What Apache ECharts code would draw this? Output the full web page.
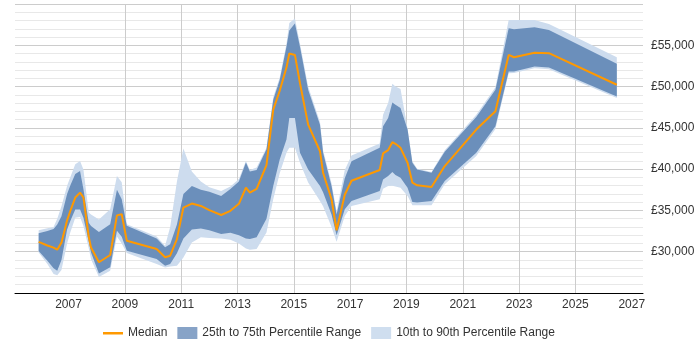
<!DOCTYPE html>
<html>
<head>
<meta charset="utf-8">
<script src="https://cdn.jsdelivr.net/npm/echarts@6/dist/echarts.min.js"></script>
<style>
  html, body { margin: 0; padding: 0; background: #fff; }
  #myChart { width: 700px; height: 350px; }
</style>
</head>
<body>
<div id="myChart"></div>
<script>
  // sample dates (fractional years) and percentile values in £
  var years = [2005.94, 2006.25, 2006.47, 2006.60, 2006.75, 2006.95, 2007.06, 2007.24, 2007.41, 2007.53,
    2007.72, 2007.80, 2008.08, 2008.48, 2008.72, 2008.89, 2009.07, 2010.13, 2010.43, 2010.61,
    2010.85, 2011.08, 2011.38, 2011.70, 2012.00, 2012.42, 2012.75, 2013.05, 2013.30, 2013.44,
    2013.68, 2014.03, 2014.27, 2014.50, 2014.74, 2014.84, 2015.04, 2015.22, 2015.51, 2015.93,
    2016.04, 2016.34, 2016.52, 2016.81, 2017.05, 2018.05, 2018.17, 2018.35, 2018.50, 2018.61,
    2018.79, 2019.04, 2019.21, 2019.38, 2019.89, 2020.36, 2021.48, 2022.16, 2022.63, 2022.82,
    2023.55, 2024.06, 2026.47];
  var p10 = [29900, 28500, 27300, 27150, 27800, 31000, 32300, 34100, 34200, 33100,
    30400, 29100, 26950, 27700, 31850, 31000, 29850, 28520, 28100, 28200,
    28300, 29300, 31130, 31740, 31650, 31600, 31450, 31000, 30400, 30240,
    30330, 32340, 36350, 39500, 42000, 42580, 42580, 40780, 38370, 36150,
    35500, 33000, 31200, 34340, 35550, 36350, 37640, 37960, 38000, 37900,
    37760, 36750, 35630, 35630, 35630, 38160, 41600, 44870, 51620, 51650,
    52230, 52110, 48610];
  var p25 = [30100, 28900, 28000, 27700, 29000, 32700, 33700, 35100, 35100, 34100,
    31200, 29900, 27350, 28120, 32530, 31800, 30120, 29120, 28310, 28500,
    29800, 31600, 32700, 32820, 32600, 32150, 32300, 32000, 31600, 31530,
    31740, 34000, 37960, 41170, 43600, 46200, 46200, 41980, 39970, 37960,
    37200, 34500, 32000, 35150, 36150, 37350, 38760, 39160, 39640, 39300,
    38970, 37760, 36030, 35950, 36150, 38560, 42000, 45190, 51820, 51820,
    52420, 52300, 48800];
  var median = [31200, 30750, 30500, 30250, 31100, 33800, 34900, 36560, 37160, 36560,
    31800, 30500, 28720, 29600, 34400, 34540, 31330, 30330, 29330, 29520,
    31530, 35350, 35830, 35540, 35030, 34450, 34950, 35800, 37760, 37160,
    37600, 40500, 47200, 49500, 52300, 54000, 53830, 50400, 45390, 42170,
    39570, 36350, 32600, 36900, 38600, 39890, 41900, 42300, 43260, 43070,
    42580, 40780, 38370, 38040, 37840, 40370, 44790, 47000, 53830, 53550,
    54100, 54040, 50220];
  var p75 = [32250, 32500, 32750, 33300, 34300, 37000, 38000, 39400, 39760, 37560,
    33500, 33100, 32400, 33340, 37500, 36350, 33130, 31610, 30530, 30900,
    33300, 37000, 37960, 37500, 37250, 36750, 37600, 38500, 40800, 39700,
    39900, 42400, 48400, 50800, 54830, 56800, 57650, 54830, 49610, 45390,
    42000, 37960, 34500, 38900, 40970, 42580, 45190, 46200, 48080, 47800,
    47410, 44790, 40780, 39970, 39570, 42100, 46300, 49610, 57050, 56930,
    57170, 56840, 52750];
  var p90 = [32600, 32850, 33000, 34000, 35500, 38000, 39000, 40600, 41000, 39970,
    34750, 34500, 33900, 35150, 39160, 38400, 33340, 31850, 30720, 33000,
    38500, 42500, 39700, 38500, 37800, 37350, 37900, 38800, 41000, 39900,
    40200, 42600, 48700, 51100, 55200, 57700, 58250, 55200, 50000, 45700,
    42300, 38300, 34900, 39900, 41660, 43100, 46600, 48000, 50340, 50000,
    49700, 44900, 40970, 40050, 39640, 42300, 46600, 49930, 58050, 58050,
    58050, 57570, 53550];
  var yearTicks = [2007, 2009, 2011, 2013, 2015, 2017, 2019, 2021, 2023, 2025, 2027];

  var lightBand = '#cddcee';
  var darkBand = '#6b8fbb';
  var medianColor = '#ff9900';
  var font = '"Liberation Sans", Arial, sans-serif';
  var lineIcon = 'path://M0,0h0.01v0.01h-0.01z M0,5h20v2.4h-20z M19.99,11.99h0.01v0.01h-0.01z';

  // band between two percentile lists, drawn as one polygon in axis coordinates
  function bandSeries(name, lo, hi, color) {
    return {
      name: name,
      type: 'custom',
      itemStyle: { color: color },
      encode: { x: 0, y: [1, 2] },
      data: years.map(function (y, i) { return [y, lo[i], hi[i]]; }),
      renderItem: function (params, api) {
        if (params.dataIndex !== 0) return;
        var pts = [];
        for (var i = 0; i < years.length; i++) pts.push(api.coord([years[i], hi[i]]));
        for (var j = years.length - 1; j >= 0; j--) pts.push(api.coord([years[j], lo[j]]));
        return {
          type: 'polygon',
          shape: { points: pts },
          style: { fill: color, stroke: null }
        };
      }
    };
  }

  var myChart = echarts.init(document.getElementById('myChart'));
  var option = {
    animation: false,
    textStyle: { fontFamily: font },
    grid: { left: 15, right: 57, top: 4, bottom: 57 },
    legend: {
      top: 322,
      left: 98,
      itemWidth: 20,
      itemHeight: 12,
      itemGap: 10,
      textStyle: { fontFamily: font, fontSize: 12, color: '#333' },
      data: [
        { name: 'Median', icon: lineIcon, itemStyle: { color: medianColor } },
        { name: '25th to 75th Percentile Range', icon: 'rect', itemStyle: { color: '#87a3c7' } },
        { name: '10th to 90th Percentile Range', icon: 'rect', itemStyle: { color: '#cfdeef' } }
      ]
    },
    xAxis: {
      type: 'value',
      min: 2005.1,
      max: 2027.4,
      axisLine: { show: true, lineStyle: { color: '#000', width: 1 } },
      axisTick: { show: false, customValues: yearTicks },
      axisLabel: {
        customValues: yearTicks,
        color: '#333',
        fontSize: 12,
        margin: 6,
        fontFamily: font,
        formatter: function (v) { return String(v); }
      },
      splitLine: { show: true, showMinLine: false, showMaxLine: false, lineStyle: { color: '#cccccc', width: 1 } }
    },
    yAxis: {
      type: 'value',
      position: 'right',
      min: 25000,
      max: 60000,
      interval: 1000,
      axisLine: { show: false },
      axisTick: { show: false },
      axisLabel: {
        color: '#333',
        fontSize: 12,
        margin: 8,
        fontFamily: font,
        formatter: function (v) {
          if (v % 5000 !== 0 || v < 30000 || v > 55000) return '';
          return '£' + (v / 1000) + ',000';
        }
      },
      splitLine: { show: true, lineStyle: { color: ['#cccccc', '#e8e8e8', '#e8e8e8', '#e8e8e8', '#e8e8e8'], width: 1 } }
    },
    series: [
      bandSeries('10th to 90th Percentile Range', p10, p90, lightBand),
      bandSeries('25th to 75th Percentile Range', p25, p75, darkBand),
      {
        name: 'Median',
        type: 'line',
        symbol: 'none',
        itemStyle: { color: medianColor },
        lineStyle: { color: medianColor, width: 2 },
        data: years.map(function (y, i) { return [y, median[i]]; })
      }
    ]
  };
  myChart.setOption(option);
</script>
</body>
</html>
